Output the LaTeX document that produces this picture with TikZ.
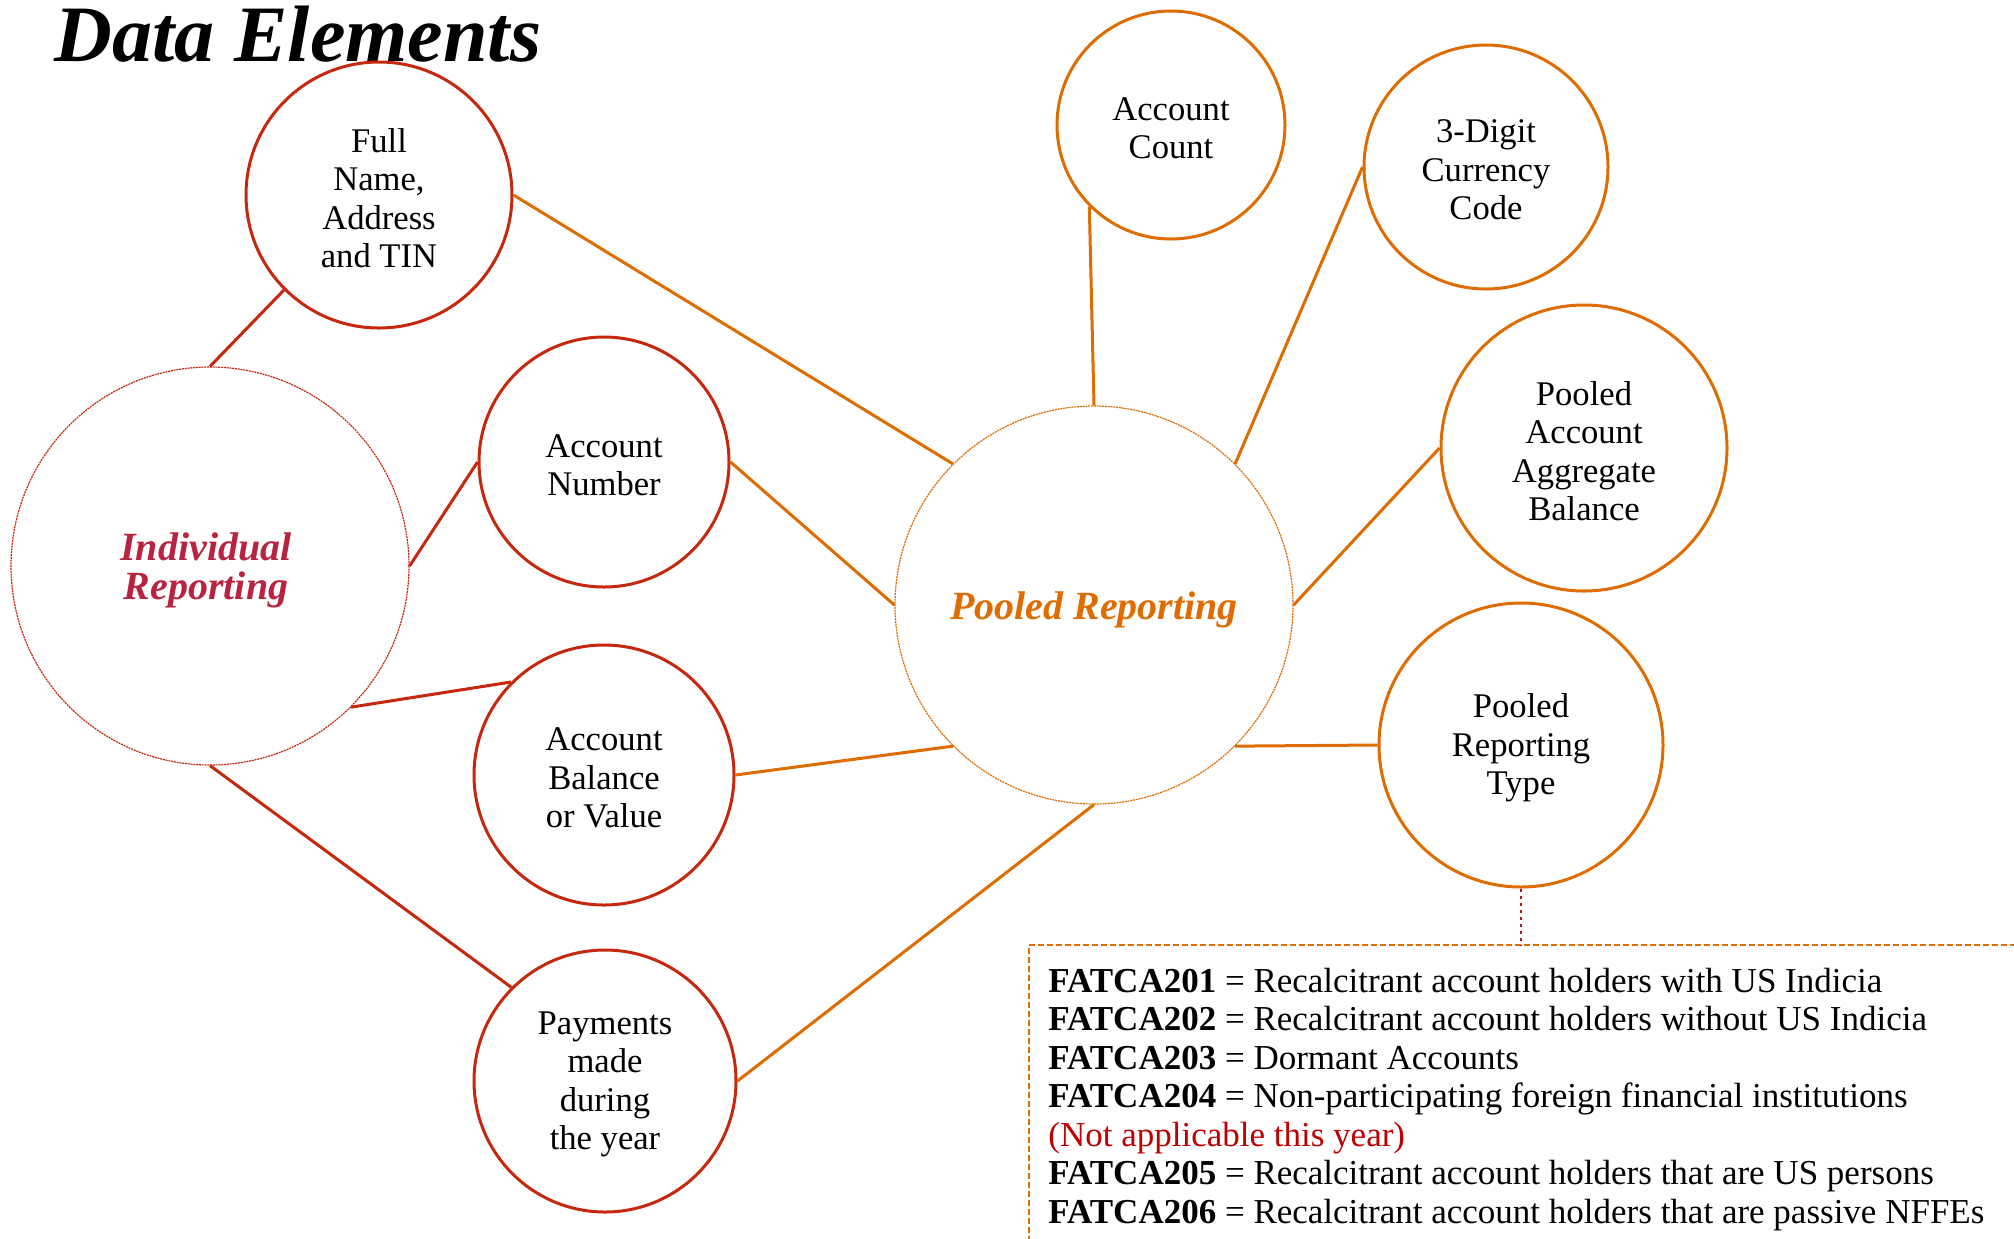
\documentclass[tikz,border=0pt]{standalone}
\usepackage{fontspec}
\setmainfont{Liberation Serif}
\definecolor{redline}{RGB}{197,40,14}
\definecolor{crimson}{RGB}{184,35,64}
\definecolor{pwcorange}{RGB}{222,108,0}
\definecolor{darkdot}{RGB}{163,32,32}
\definecolor{noteRed}{RGB}{192,0,0}
\begin{document}
\begin{tikzpicture}[x=0.5pt,y=-0.5pt,
  bubble/.style={circle, line width=1.5pt, fill=white, inner sep=0pt},
  redbubble/.style={bubble, draw=redline, minimum size=#1},
  orangebubble/.style={bubble, draw=pwcorange, minimum size=#1},
  bubbletext/.style={align=center, inner sep=0pt, text=black,
    font=\fontsize{17.3}{19.25}\selectfont},
  hub/.style={circle, fill=white, inner sep=0pt, line width=0.6pt,
    dash pattern=on 1pt off 0.4pt, minimum size=#1},
  hubtext/.style={align=center, inner sep=0pt,
    font=\fontsize{20}{19.25}\selectfont\bfseries\itshape},
  redlink/.style={draw=redline, line width=1.5pt},
  orangelink/.style={draw=pwcorange, line width=1.5pt},
  codeline/.style={anchor=base west, inner sep=0pt, font=\fontsize{17.5}{19.25}\selectfont}
]
\useasboundingbox (0,0) rectangle (2014,1238);

% title
\node[anchor=base west, inner sep=0pt, font=\fontsize{40}{44}\selectfont\bfseries\itshape]
  (title) at (54,61) {Data Elements};

% hubs
\node[hub=199pt, draw=redline] (ind) at (210,566) {};
\node[hubtext, text=crimson] (indtext) at ([xshift=-2pt,yshift=-2.2pt]ind.center) {Individual\\Reporting};
\node[hub=199pt, draw=pwcorange] (pr) at (1094,605) {};
\node[hubtext, text=pwcorange] (prtext) at ([yshift=-2.5pt]pr.center) {Pooled Reporting};

% data element bubbles
\node[redbubble=133pt] (fn) at (379,195) {};
\node[redbubble=125pt] (an) at (604,462) {};
\node[redbubble=130pt] (ab) at (604,775) {};
\node[redbubble=131pt] (pay) at (605,1081) {};
\node[orangebubble=114pt] (ac) at (1171,125) {};
\node[orangebubble=122pt] (cc) at (1486,167) {};
\node[orangebubble=143pt] (pa) at (1584,448) {};
\node[orangebubble=142pt] (prt) at (1521,745) {};

\node[bubbletext] (fntext) at ([yshift=-1.6pt]fn.center) {Full\\Name,\\Address\\and TIN};
\node[bubbletext] (antext) at ([yshift=-1.6pt]an.center) {Account\\Number};
\node[bubbletext] (abtext) at ([yshift=-1.6pt]ab.center) {Account\\Balance\\or Value};
\node[bubbletext] (paytext) at ([yshift=-1.6pt]pay.center) {Payments\\made\\during\\the year};
\node[bubbletext] (actext) at ([yshift=-1.6pt]ac.center) {Account\\Count};
\node[bubbletext] (cctext) at ([yshift=-1.6pt]cc.center) {3-Digit\\Currency\\Code};
\node[bubbletext] (patext) at ([yshift=-1.6pt]pa.center) {Pooled\\Account\\Aggregate\\Balance};
\node[bubbletext] (prttext) at ([yshift=-1.6pt]prt.center) {Pooled\\Reporting\\Type};

% individual reporting links
\draw[redlink] (ind.north) -- (fn.south west);
\draw[redlink] (ind.east) -- (an.west);
\draw[redlink] (ind.south east) -- (ab.north west);
\draw[redlink] (ind.south) -- (pay.north west);

% pooled reporting links
\draw[orangelink] (fn.east) -- (pr.north west);
\draw[orangelink] (an.east) -- (pr.west);
\draw[orangelink] (ab.east) -- (pr.south west);
\draw[orangelink] (pay.east) -- (pr.south);
\draw[orangelink] (ac.south west) -- (pr.north);
\draw[orangelink] (cc.west) -- (pr.north east);
\draw[orangelink] (pa.west) -- (pr.east);
\draw[orangelink] (pr.south east) -- (prt.west);

% legend box for reporting types
\coordinate (boxtop) at (1521,945);
\draw[pwcorange, line width=1pt, dash pattern=on 3pt off 1.5pt]
  (1029,1260) -- (1029,945) -- (2030,945);
\draw[darkdot, line width=1.2pt, dash pattern=on 1.5pt off 2pt] (prt.south) -- (boxtop);

\node[codeline] (l1) at (1048,992) {\textbf{FATCA201} = Recalcitrant account holders with US Indicia};
\node[codeline] (l2) at (1048,1030) {\textbf{FATCA202} = Recalcitrant account holders without US Indicia};
\node[codeline] (l3) at (1048,1069) {\textbf{FATCA203} = Dormant Accounts};
\node[codeline] (l4) at (1048,1107) {\textbf{FATCA204} = Non-participating foreign financial institutions};
\node[codeline, text=noteRed] (l5) at (1048,1146) {(Not applicable this year)};
\node[codeline] (l6) at (1048,1184) {\textbf{FATCA205} = Recalcitrant account holders that are US persons};
\node[codeline] (l7) at (1048,1223) {\textbf{FATCA206} = Recalcitrant account holders that are passive NFFEs};
\end{tikzpicture}
\end{document}
